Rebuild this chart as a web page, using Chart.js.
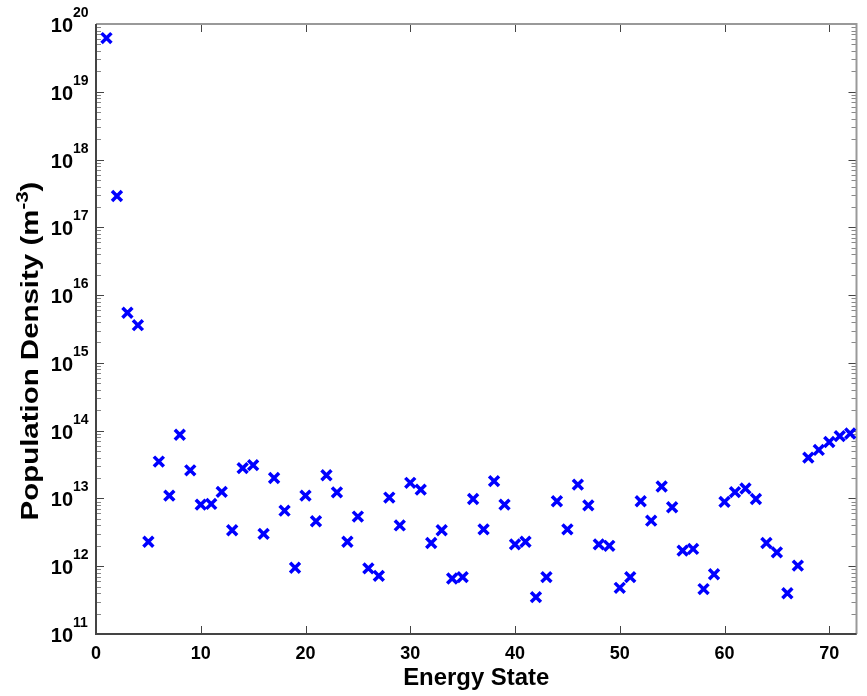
<!DOCTYPE html>
<html>
<head>
<meta charset="utf-8">
<script src="https://cdn.jsdelivr.net/npm/chart.js@4"></script>
<style>
body { margin: 0; background: #fff; }
canvas { display: block; }
</style>
</head>
<body>
<canvas id="chart" width="867" height="696"></canvas>
<script>
const states = [
    1, 2, 3, 4, 5, 6, 7, 8, 9, 10, 11, 12, 13, 14, 15, 16, 17, 18, 19, 20,
    21, 22, 23, 24, 25, 26, 27, 28, 29, 30, 31, 32, 33, 34, 35, 36, 37, 38, 39, 40,
    41, 42, 43, 44, 45, 46, 47, 48, 49, 50, 51, 52, 53, 54, 55, 56, 57, 58, 59, 60,
    61, 62, 63, 64, 65, 66, 67, 68, 69, 70, 71, 72
];
const density = [
    6.2e19, 2.9e17, 5.5e15, 3.6e15, 2.3e12, 3.5e13, 1.1e13, 8.7e13, 2.6e13, 8.1e12,
    8.3e12, 1.25e13, 3.4e12, 2.8e13, 3.1e13, 3.0e12, 2.0e13, 6.6e12, 9.5e11, 1.1e13,
    4.6e12, 2.2e13, 1.23e13, 2.3e12, 5.4e12, 9.3e11, 7.2e11, 1.03e13, 4.0e12, 1.7e13,
    1.35e13, 2.2e12, 3.4e12, 6.6e11, 6.9e11, 9.8e12, 3.5e12, 1.8e13, 8.1e12, 2.1e12,
    2.3e12, 3.5e11, 6.9e11, 9.1e12, 3.5e12, 1.6e13, 7.9e12, 2.1e12, 2.0e12, 4.8e11,
    6.9e11, 9.1e12, 4.7e12, 1.5e13, 7.4e12, 1.7e12, 1.8e12, 4.6e11, 7.6e11, 8.9e12,
    1.24e13, 1.4e13, 9.8e12, 2.2e12, 1.6e12, 4.0e11, 1.02e12, 4.0e13, 5.2e13, 6.8e13,
    8.3e13, 9.1e13
];
const xTicks = [0, 10, 20, 30, 40, 50, 60, 70];
const yExponents = [11, 12, 13, 14, 15, 16, 17, 18, 19, 20];

const FONT = '"Liberation Sans", Arial, sans-serif';

// MATLAB style box with inward ticks, drawn from the chart's own scales
const axesBox = {
    id: 'axesBox',
    beforeDatasetsDraw(chart) {
        const { ctx, chartArea: a, scales: { x, y } } = chart;
        ctx.save();
        ctx.lineWidth = 1;

        // minor log ticks
        ctx.strokeStyle = '#888';
        yExponents.slice(0, -1).forEach(e => {
            for (let m = 2; m <= 9; m++) {
                const py = Math.round(y.getPixelForValue(m * Math.pow(10, e))) + 0.5;
                ctx.beginPath();
                ctx.moveTo(a.left, py); ctx.lineTo(a.left + 5, py);
                ctx.moveTo(a.right, py); ctx.lineTo(a.right - 5, py);
                ctx.stroke();
            }
        });

        // major ticks
        ctx.strokeStyle = '#444';
        yExponents.forEach(e => {
            const py = Math.round(y.getPixelForValue(Math.pow(10, e))) + 0.5;
            ctx.beginPath();
            ctx.moveTo(a.left, py); ctx.lineTo(a.left + 8, py);
            ctx.moveTo(a.right, py); ctx.lineTo(a.right - 8, py);
            ctx.stroke();
        });
        xTicks.forEach(t => {
            const px = Math.round(x.getPixelForValue(t)) + 0.5;
            ctx.beginPath();
            ctx.moveTo(px, a.bottom); ctx.lineTo(px, a.bottom - 8);
            ctx.moveTo(px, a.top); ctx.lineTo(px, a.top + 8);
            ctx.stroke();
        });

        // box: top and right lighter
        ctx.lineWidth = 2;
        ctx.strokeStyle = '#999';
        ctx.beginPath();
        ctx.moveTo(a.left, a.top); ctx.lineTo(a.right, a.top); ctx.lineTo(a.right, a.bottom);
        ctx.stroke();
        ctx.strokeStyle = '#444';
        ctx.beginPath();
        ctx.moveTo(a.left, a.top); ctx.lineTo(a.left, a.bottom); ctx.lineTo(a.right, a.bottom);
        ctx.stroke();
        ctx.restore();
    },
    afterDraw(chart) {
        const { ctx, chartArea: a, scales: { x, y } } = chart;
        ctx.save();
        ctx.fillStyle = '#000';

        // x tick labels
        ctx.font = 'bold 18px ' + FONT;
        ctx.textAlign = 'center';
        ctx.textBaseline = 'alphabetic';
        xTicks.forEach(t => {
            ctx.fillText(String(t), x.getPixelForValue(t), a.bottom + 25);
        });

        // y tick labels: 10^n
        yExponents.forEach(e => {
            const py = y.getPixelForValue(Math.pow(10, e));
            ctx.font = 'bold 20px ' + FONT;
            ctx.textAlign = 'right';
            ctx.fillText('10', a.left - 23, py + 8);
            ctx.font = 'bold 14px ' + FONT;
            ctx.textAlign = 'left';
            ctx.fillText(String(e), a.left - 23, py - 7);
        });

        // x title
        ctx.save();
        ctx.font = 'bold 23px ' + FONT;
        ctx.textAlign = 'center';
        ctx.translate((a.left + a.right) / 2, 685);
        ctx.scale(1.04, 1);
        ctx.fillText('Energy State', 0, 0);
        ctx.restore();

        // y title with superscript (stretched like the rotated MATLAB label)
        ctx.translate(38, 351);
        ctx.rotate(-Math.PI / 2);
        ctx.scale(1.28, 1);
        const main = 'Population Density (m';
        const sup = '-3';
        ctx.font = 'bold 23px ' + FONT;
        const w1 = ctx.measureText(main).width;
        const w3 = ctx.measureText(')').width;
        ctx.font = 'bold 16px ' + FONT;
        const w2 = ctx.measureText(sup).width;
        let sx = -(w1 + w2 + w3) / 2;
        ctx.textAlign = 'left';
        ctx.font = 'bold 23px ' + FONT;
        ctx.fillText(main, sx, 0);
        ctx.font = 'bold 16px ' + FONT;
        ctx.fillText(sup, sx + w1, -10);
        ctx.font = 'bold 23px ' + FONT;
        ctx.fillText(')', sx + w1 + w2, 0);
        ctx.restore();
    }
};

const ctx = document.getElementById('chart').getContext('2d');
new Chart(ctx, {
    type: 'scatter',
    data: {
        datasets: [{
            label: 'Population Density',
            data: states.map((s, i) => ({ x: s, y: density[i] })),
            pointStyle: 'crossRot',
            pointRadius: 7,
            borderWidth: 3.5,
            borderColor: '#0000ff',
            backgroundColor: '#0000ff'
        }]
    },
    options: {
        responsive: false,
        animation: false,
        events: [],
        layout: { padding: { left: 96, right: 1, top: 24, bottom: 62 } },
        plugins: {
            legend: { display: false },
            tooltip: { enabled: false }
        },
        scales: {
            x: { type: 'linear', min: 0, max: 72.6, display: false },
            y: { type: 'logarithmic', min: 1e11, max: 1e20, display: false }
        }
    },
    plugins: [axesBox]
});
</script>
</body>
</html>
